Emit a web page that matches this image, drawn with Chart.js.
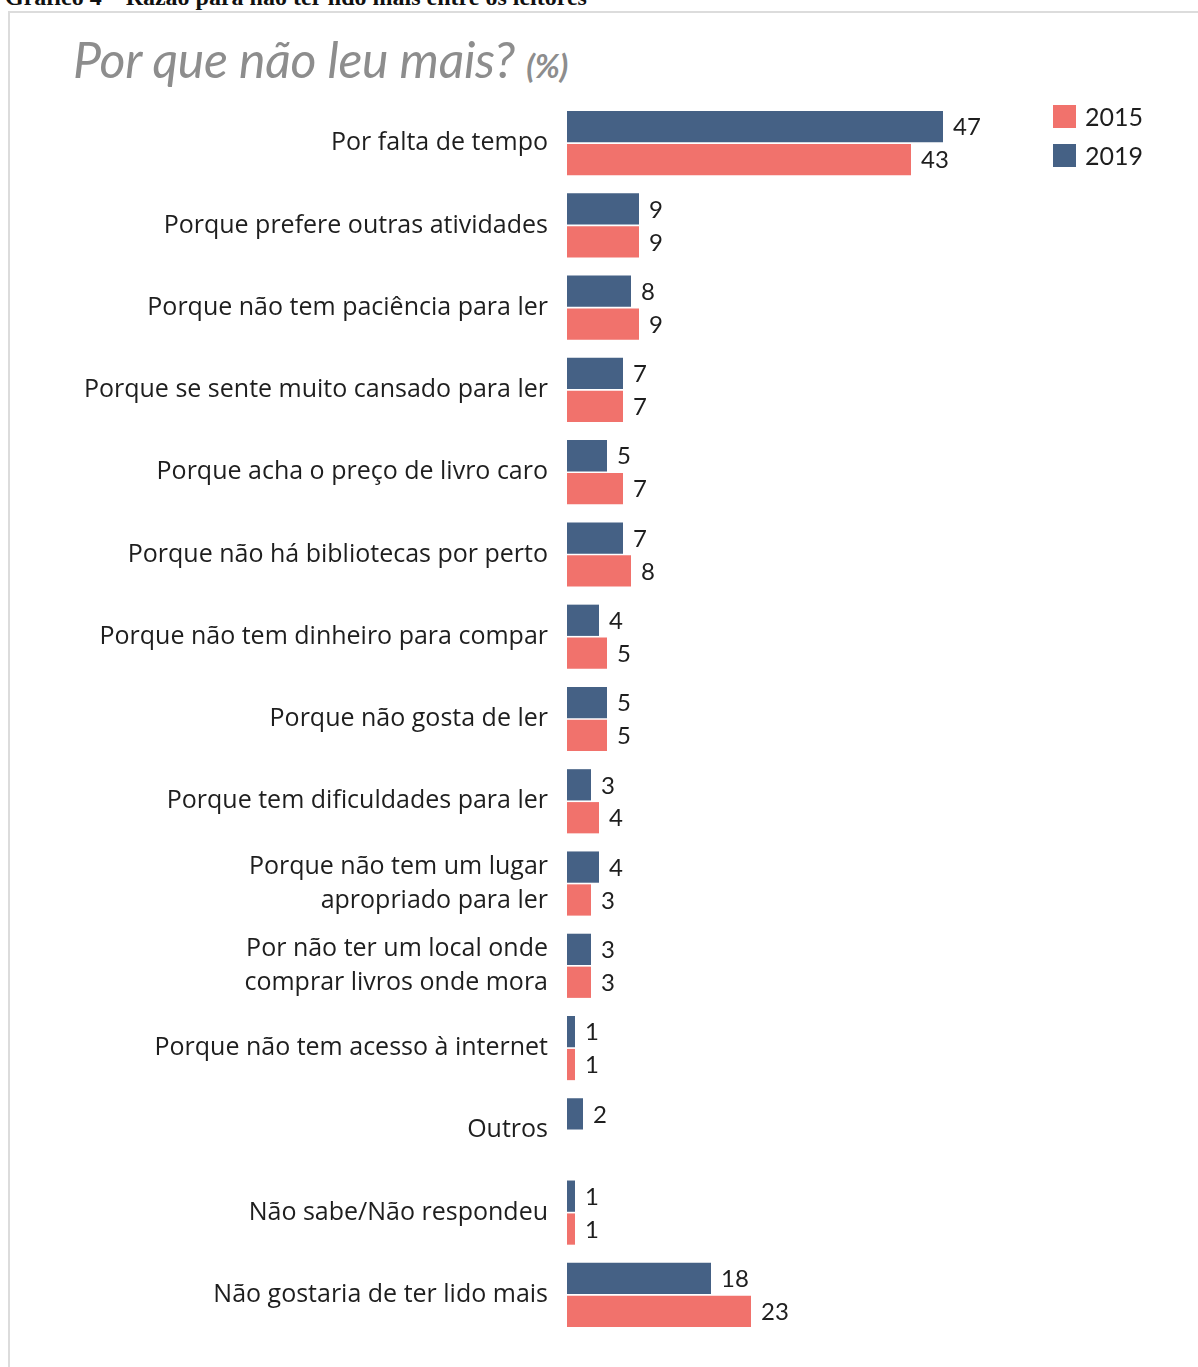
<!DOCTYPE html>
<html lang="pt">
<head>
<meta charset="utf-8">
<title>Por que não leu mais?</title>
<script src="https://cdn.jsdelivr.net/npm/chart.js@4/dist/chart.umd.min.js"></script>
<style>
  html, body { margin: 0; padding: 0; background: #fff; }
  body { width: 1198px; height: 1367px; position: relative; overflow: hidden; }
  #caption {
    position: absolute; left: 5px; top: -15px; margin: 0;
    font: bold 24px "Liberation Serif", "DejaVu Serif", serif; line-height: 24px;
    color: #111; white-space: nowrap;
  }
  #frame {
    position: absolute; left: 8px; top: 11px; width: 1190px; height: 1356px;
    border-left: 2px solid #dcdcdc; border-top: 2px solid #dcdcdc; box-sizing: border-box;
  }
  #title {
    position: absolute; left: 73px; top: 31px; margin: 0;
    font: italic 50px Lato, "Open Sans", sans-serif; line-height: 56px;
    color: #8d8d8d; white-space: nowrap; letter-spacing: -0.3px; font-weight: normal;
  }
  #title small { font-size: 33px; font-weight: bold; }
  #wrap { position: absolute; left: 0; top: 0; width: 1198px; height: 1367px; }
</style>
</head>
<body>
<p id="caption">Gráfico 4 – Razão para não ter lido mais entre os leitores</p>
<div id="frame"></div>
<h1 id="title">Por que não leu mais? <small>(%)</small></h1>
<div id="wrap"><canvas id="chart" width="1198" height="1367"></canvas></div>

<script>
// Reasons given for not reading more (%), 2019 vs 2015
const categories = [
  "Por falta de tempo",
  "Porque prefere outras atividades",
  "Porque não tem paciência para ler",
  "Porque se sente muito cansado para ler",
  "Porque acha o preço de livro caro",
  "Porque não há bibliotecas por perto",
  "Porque não tem dinheiro para compar",
  "Porque não gosta de ler",
  "Porque tem dificuldades para ler",
  ["Porque não tem um lugar", "apropriado para ler"],
  ["Por não ter um local onde", "comprar livros onde mora"],
  "Porque não tem acesso à internet",
  "Outros",
  "Não sabe/Não respondeu",
  "Não gostaria de ter lido mais"
];
const values2019 = [47, 9, 8, 7, 5, 7, 4, 5, 3, 4, 3, 1, 2, 1, 18];
const values2015 = [43, 9, 9, 7, 7, 8, 5, 5, 4, 3, 3, 1, null, 1, 23];
const seriesNames = ["2019", "2015"];
const legendOrder = ["2015", "2019"];

const BLUE = "#456185";
const SALMON = "#f1726c";
const TEXT = "#1e1e1e";
const FONT = "Lato, 'Open Sans', sans-serif";
const LABEL_FONT = "'Open Sans', Lato, sans-serif";

// numbers printed at the end of each bar
const valueLabels = {
  id: "valueLabels",
  afterDatasetsDraw(chart) {
    const ctx = chart.ctx;
    ctx.save();
    ctx.font = "24px " + FONT;
    ctx.fillStyle = TEXT;
    ctx.textBaseline = "middle";
    ctx.textAlign = "left";
    chart.data.datasets.forEach((ds, di) => {
      chart.getDatasetMeta(di).data.forEach((bar, i) => {
        const v = ds.data[i];
        if (v === null || v === undefined) return;
        ctx.fillText(String(v), bar.x + 10, bar.y + 1);
      });
    });
    ctx.restore();
  }
};

// legend in the upper right corner
const cornerLegend = {
  id: "cornerLegend",
  afterDraw(chart) {
    const ctx = chart.ctx;
    ctx.save();
    ctx.font = "25px " + FONT;
    ctx.textBaseline = "middle";
    legendOrder.forEach((name, k) => {
      const ds = chart.data.datasets.find(d => d.label === name);
      const x = 1053, y = 105 + k * 39;
      ctx.fillStyle = ds.backgroundColor;
      ctx.fillRect(x, y, 23, 23);
      ctx.fillStyle = TEXT;
      ctx.fillText(name, x + 32, y + 13);
    });
    ctx.restore();
  }
};

new Chart(document.getElementById("chart"), {
  type: "bar",
  data: {
    labels: categories,
    datasets: [
      { label: seriesNames[0], data: values2019, backgroundColor: BLUE },
      { label: seriesNames[1], data: values2015, backgroundColor: SALMON }
    ]
  },
  options: {
    indexAxis: "y",
    responsive: false,
    animation: false,
    devicePixelRatio: 1,
    layout: { padding: { top: 102, bottom: 31, left: 0, right: 151 } },
    datasets: { bar: { categoryPercentage: 0.8, barPercentage: 0.95 } },
    plugins: { legend: { display: false }, tooltip: { enabled: false } },
    scales: {
      x: { min: 0, max: 60, display: false },
      y: {
        grid: { display: false, drawTicks: false },
        border: { display: false },
        afterFit(scale) {
          // fixed label column; the plot area itself sets the vertical extent
          scale.width = 567;
          scale.paddingTop = 0;
          scale.paddingBottom = 0;
        },
        ticks: {
          color: TEXT,
          padding: 19,
          font: { family: LABEL_FONT, size: 25, lineHeight: 1.36 }
        }
      }
    }
  },
  plugins: [valueLabels, cornerLegend]
});
</script>
</body>
</html>
